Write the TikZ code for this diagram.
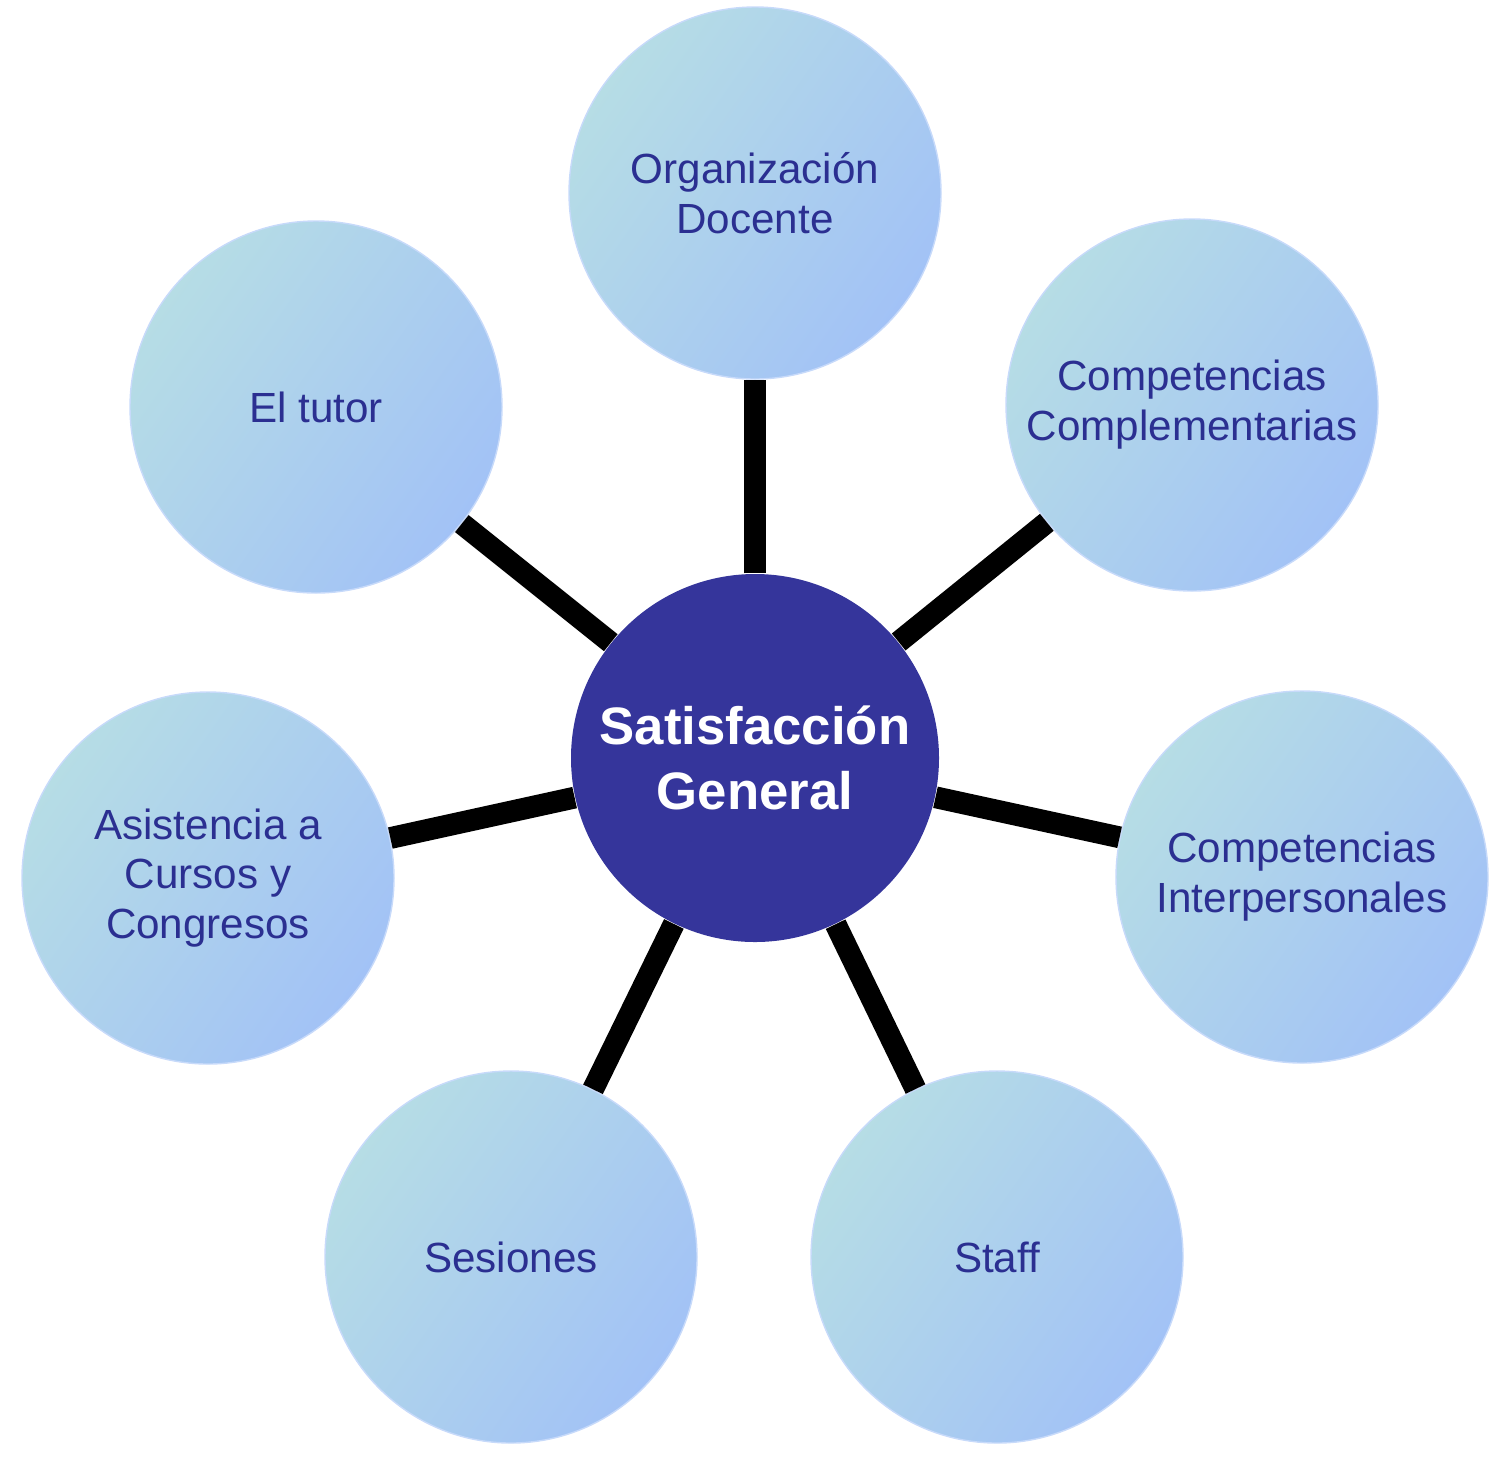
\documentclass[tikz,border=0pt]{standalone}
\usepackage{fontspec}
\setmainfont{Liberation Sans}
\usepackage{tikz}
\usetikzlibrary{positioning,calc}
\usepackage{xcolor}
\definecolor{hubblue}{HTML}{35359B}
\definecolor{leafcyan}{HTML}{B6DDE5}
\definecolor{leafblue}{HTML}{A2C2F6}
\definecolor{labelblue}{HTML}{2B2F91}
\tikzset{
  hub/.style={circle, fill=hubblue, text=white, align=center, minimum size=3.68cm, inner sep=0pt, font=\fontsize{15}{18.4}\selectfont\bfseries},
  leaf/.style={circle, left color=leafcyan, right color=leafblue, shading angle=55, draw=leafblue!60!white, thin, text=labelblue, align=center, minimum size=3.72cm, inner sep=0pt, font=\fontsize{12}{14.2}\selectfont},
  spoke/.style={line width=6.2pt, draw=black}
}

\begin{document}
\begin{tikzpicture}
  \useasboundingbox (0,0) rectangle (15.08,-14.63);
  \node[hub] (sat) at (7.55,-7.58) {Satisfacción\\General};
  \node[leaf] (org) at (7.55,-1.93) {Organización\\Docente};
  \node[leaf] (compl) at (11.92,-4.05) {Competencias\\Complementarias};
  \node[leaf] (inter) at (13.02,-8.77) {Competencias\\Interpersonales};
  \node[leaf] (staff) at (9.97,-12.57) {Staff};
  \node[leaf] (ses) at (5.11,-12.57) {Sesiones};
  \node[leaf] (asis) at (2.08,-8.78) {Asistencia a\\Cursos y\\Congresos};
  \node[leaf] (tutor) at (3.16,-4.07) {El tutor};
  \foreach \n in {org,compl,inter,staff,ses,asis,tutor}
    \draw[spoke] (sat) -- (\n);
\end{tikzpicture}
\end{document}
